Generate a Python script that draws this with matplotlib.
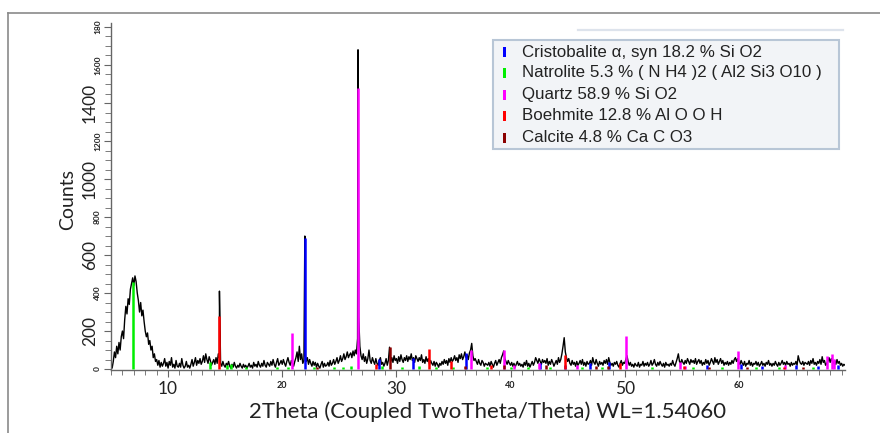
import numpy as np
import matplotlib
matplotlib.use("Agg")
import matplotlib.pyplot as plt
from matplotlib.patches import Rectangle
from matplotlib.lines import Line2D
from matplotlib.transforms import blended_transform_factory

# ---------------- data ----------------
# measured trace, 0.1 deg steps starting at 5.0 deg
trace_start = 5.0
trace_step = 0.1
trace_counts = [
    10, 5, 40, 90, 60, 120, 80, 140, 100, 170,         # 5
    200, 160, 260, 330, 290, 370, 340, 420, 450, 480,  # 6
    440, 490, 460, 400, 360, 300, 350, 280, 310, 250,  # 7
    200, 170, 190, 130, 150, 100, 120, 60, 80, 40,     # 8
    50, 20, 45, 10, 35, 15, 30, 55, 15, 35,            # 9
    5, 40, 20, 60, 10, 25, 5, 45, 15, 10,              # 10
    30, 10, 55, 20, 5, 15, 40, 10, 20, 5,              # 11
    25, 50, 15, 35, 60, 20, 45, 30, 55, 25,            # 12
    40, 70, 35, 80, 50, 30, 65, 45, 20, 35,            # 13
    50, 25, 60, 30, 80, 60, 30, 15, 40, 20,            # 14
    10, 30, 20, 40, 15, 5, 25, 10, 35, 15,             # 15
    5, 20, 10, 30, 15, 5, 25, 10, 20, 5,               # 16
    15, 30, 10, 20, 5, 35, 15, 25, 10, 40,             # 17
    20, 10, 30, 15, 45, 20, 10, 35, 25, 15,            # 18
    40, 20, 50, 25, 10, 35, 55, 20, 30, 45,            # 19
    25, 50, 30, 15, 40, 60, 35, 20, 45, 30,            # 20
    15, 40, 60, 90, 40, 120, 50, 80, 30, 45,           # 21
    80, 40, 60, 25, 50, 30, 15, 40, 20, 35,            # 22
    10, 30, 15, 5, 25, 40, 10, 30, 15, 20,             # 23
    35, 15, 45, 20, 30, 50, 25, 40, 60, 30,            # 24
    45, 70, 40, 55, 80, 50, 65, 90, 60, 75,            # 25
    85, 60, 95, 70, 100, 80, 160, 275, 120, 70,        # 26
    50, 80, 40, 65, 30, 55, 100, 45, 30, 60,           # 27
    40, 25, 55, 30, 20, 45, 60, 25, 35, 15,            # 28
    30, 55, 20, 45, 115, 40, 60, 35, 70, 45,           # 29
    55, 30, 65, 40, 75, 50, 35, 60, 45, 70,            # 30
    40, 65, 50, 80, 45, 60, 35, 70, 55, 40,            # 31
    60, 45, 75, 35, 50, 30, 65, 40, 55, 25,            # 32
    45, 30, 20, 40, 15, 35, 25, 10, 30, 20,            # 33
    40, 25, 50, 30, 45, 20, 55, 35, 60, 40,            # 34
    50, 70, 45, 60, 35, 75, 55, 80, 50, 65,            # 35
    90, 60, 75, 50, 85, 100, 135, 70, 45, 55,          # 36
    40, 25, 50, 30, 20, 45, 35, 15, 30, 25,            # 37
    20, 35, 15, 40, 25, 10, 30, 45, 20, 35,            # 38
    50, 30, 60, 75, 95, 55, 40, 25, 45, 30,            # 39
    20, 35, 15, 30, 10, 25, 40, 20, 30, 15,            # 40
    25, 10, 35, 20, 45, 15, 30, 10, 25, 40,            # 41
    20, 35, 60, 45, 30, 55, 40, 25, 50, 35,            # 42
    45, 30, 55, 20, 40, 25, 50, 35, 15, 30,            # 43
    45, 25, 60, 35, 50, 80, 120, 165, 90, 60,          # 44
    40, 55, 30, 20, 45, 25, 35, 15, 40, 20,            # 45
    30, 45, 25, 50, 20, 35, 15, 40, 25, 30,            # 46
    45, 20, 60, 35, 25, 50, 30, 15, 40, 25,            # 47
    35, 20, 45, 30, 50, 25, 60, 35, 20, 30,            # 48
    15, 35, 25, 40, 20, 10, 30, 45, 20, 35,            # 49
    30, 50, 70, 40, 20, 35, 15, 25, 10, 30,            # 50
    20, 15, 35, 10, 25, 20, 40, 15, 30, 20,            # 51
    35, 15, 25, 45, 20, 30, 50, 25, 15, 35,            # 52
    20, 40, 25, 15, 30, 10, 35, 20, 25, 15,            # 53
    30, 20, 45, 25, 15, 35, 55, 80, 40, 30,            # 54
    50, 35, 25, 45, 30, 55, 40, 25, 50, 35,            # 55
    45, 30, 55, 25, 40, 50, 30, 45, 20, 35,            # 56
    25, 50, 30, 45, 20, 35, 55, 40, 25, 60,            # 57
    35, 50, 25, 40, 55, 30, 45, 20, 35, 25,            # 58
    40, 20, 35, 25, 45, 30, 50, 60, 40, 55,            # 59
    35, 25, 45, 30, 20, 40, 15, 30, 25, 45,            # 60
    20, 35, 15, 30, 25, 40, 20, 35, 15, 25,            # 61
    40, 20, 30, 15, 35, 25, 45, 20, 30, 15,            # 62
    30, 20, 40, 25, 15, 35, 20, 30, 45, 25,            # 63
    35, 20, 40, 25, 30, 15, 35, 20, 30, 25,            # 64
    40, 20, 70, 45, 30, 25, 40, 20, 35, 30,            # 65
    25, 40, 20, 45, 30, 55, 25, 35, 20, 40,            # 66
    30, 50, 25, 65, 35, 45, 20, 30, 40, 60,            # 67
    35, 55, 40, 30, 45, 25, 50, 30, 40, 20,            # 68
    30, 15, 25, 20,                                    # 69
]
# sharp peak tops of the measured trace
peak_pos = [14.50, 21.98, 26.64]
peak_counts = [410, 700, 1680]

# reference stick patterns (position deg, height counts)
cristobalite_pos = [21.98, 28.44, 31.45, 36.10, 42.60, 44.80, 47.00, 48.60, 57.20, 60.20, 62.00, 65.00, 66.90, 68.70]
cristobalite_h = [690, 55, 60, 85, 30, 20, 30, 35, 20, 25, 15, 20, 15, 20]

natrolite_pos = [6.95, 13.70, 15.20, 15.50, 16.80, 19.50, 20.50, 22.80, 24.50, 25.30, 26.00, 28.70, 30.50,
                 32.00, 33.50, 35.00, 37.90, 40.00, 41.50, 43.50, 46.30, 48.00, 52.40, 56.00, 58.50,
                 61.50, 63.50, 66.50]
natrolite_h = [460, 35, 20, 25, 10, 10, 10, 10, 10, 10, 15, 15, 10, 15, 10, 10, 10, 10, 10, 10, 10, 10,
               10, 10, 10, 10, 10, 10]

quartz_pos = [20.86, 26.64, 36.54, 39.47, 40.30, 42.45, 45.80, 50.14, 54.87, 55.30, 59.96, 64.04, 67.74, 68.14, 68.32]
quartz_h = [190, 1480, 100, 100, 20, 30, 20, 175, 35, 15, 95, 20, 70, 80, 55]

boehmite_pos = [14.50, 28.20, 32.85, 34.80, 38.30, 44.75, 49.60, 55.20, 64.00]
boehmite_h = [280, 25, 105, 40, 20, 75, 30, 15, 10]

calcite_pos = [23.05, 29.40, 36.00, 39.40, 43.15, 47.50, 48.50, 57.40, 60.70, 65.60]
calcite_h = [10, 115, 15, 20, 20, 15, 15, 10, 10, 10]

phase_labels = ["Cristobalite α, syn 18.2 % Si O2",
                "Natrolite 5.3 % ( N H4 )2 ( Al2 Si3 O10 )",
                "Quartz 58.9 % Si O2",
                "Boehmite 12.8 % Al O O H",
                "Calcite 4.8 % Ca C O3"]
phase_colors = ["#0000ff", "#00ee00", "#ff00ff", "#ff0000", "#8b0000"]

x_major = [10, 20, 30, 40, 50, 60]
x_major_big = [True, False, True, False, True, False]
y_major = [0, 200, 400, 600, 800, 1000, 1200, 1400, 1600, 1800]
y_labels = ["0", "200", "400", "600", "800", "1000", "1200", "1400", "1600", "180"]
y_big = [False, True, False, True, False, True, False, True, False, False]

# ---------------- figure ----------------
W, H = 880, 433
fig = plt.figure(figsize=(W / 100, H / 100), dpi=100)

def fx(px):
    return px / W

def fy(py):
    return 1 - py / H

# outer frame (top and left lines)
fig.add_artist(Line2D([fx(8), 1.0], [fy(13), fy(13)], color="#8a8a8a", lw=1.2))
fig.add_artist(Line2D([fx(8), fx(8)], [fy(13), 0.0], color="#8a8a8a", lw=1.2))

ax = fig.add_axes([fx(111), fy(370), fx(845) - fx(111), fy(23) - fy(370)])

tx = trace_start + trace_step * np.arange(len(trace_counts))
all_x = np.concatenate([tx, np.array(peak_pos)])
all_y = np.concatenate([np.array(trace_counts, float), np.array(peak_counts, float)])
order = np.argsort(all_x, kind="stable")
ax.plot(all_x[order], all_y[order], color="black", lw=1.0, zorder=2)

sticks = [(cristobalite_pos, cristobalite_h), (natrolite_pos, natrolite_h), (quartz_pos, quartz_h),
          (boehmite_pos, boehmite_h), (calcite_pos, calcite_h)]
for (pos, h), c in zip(sticks, phase_colors):
    ax.vlines(pos, 0, h, colors=c, lw=1.8, zorder=3)

ax.set_xlim(5, 69.3)
ax.set_ylim(-5, 1821)

for s in ["top", "right"]:
    ax.spines[s].set_visible(False)
for s in ["left", "bottom"]:
    ax.spines[s].set_color("#666666")
    ax.spines[s].set_linewidth(1.0)

ax.set_xticks(x_major)
ax.set_xticks(np.arange(5, 70, 1), minor=True)
ax.set_xticklabels([str(v) for v in x_major])
for lab, big in zip(ax.get_xticklabels(), x_major_big):
    lab.set_fontsize(12.5 if big else 6.5)
    lab.set_family("Lato")
    lab.set_color("#222222")
    if not big:
        lab.set_fontweight("bold")
ax.tick_params(axis="x", which="major", length=5, color="#666666", pad=3)
ax.tick_params(axis="x", which="minor", length=3.5, color="#666666")

ax.set_yticks(y_major)
ax.set_yticks(np.arange(0, 1801, 50), minor=True)
ax.set_yticklabels([])
ax.tick_params(axis="y", which="major", length=5, color="#666666")
ax.tick_params(axis="y", which="minor", length=4, color="#666666")
ytr = blended_transform_factory(fig.transFigure, ax.transData)
for v, lab, big in zip(y_major, y_labels, y_big):
    ax.text(fx(90) if big else fx(97.5), v, lab, transform=ytr, rotation=90, ha="center", va="center",
            fontsize=12.5 if big else 6.0, family="Lato", color="#222222",
            fontweight="normal" if big else "bold", clip_on=False)

fig.text(fx(68), fy(200), "Counts", rotation=90, ha="center", va="center",
         fontsize=14, family="Lato", color="#222222")
fig.text(fx(488), fy(412), "2Theta (Coupled TwoTheta/Theta) WL=1.54060", ha="center", va="center",
         fontsize=16, family="Lato", color="#222222")

# legend box
fig.add_artist(Line2D([fx(578), fx(843)], [fy(30), fy(30)], color="#dde3ec", lw=1.6))
fig.add_artist(Rectangle((fx(493), fy(149)), fx(839) - fx(493), fy(40) - fy(149),
                         transform=fig.transFigure, facecolor="#f2f4f7", edgecolor="#b8c6d6",
                         lw=1.5, zorder=5))
row_y = [52, 73, 95, 116, 138]
for lbl, c, yy in zip(phase_labels, phase_colors, row_y):
    fig.add_artist(Rectangle((fx(503), fy(yy + 5)), fx(3), 10 / H, transform=fig.transFigure,
                             facecolor=c, edgecolor="none", zorder=6))
    fig.text(fx(522), fy(yy), lbl, ha="left", va="center", fontsize=12.2,
             family="Liberation Sans", color="#222222", zorder=7)

fig.savefig("out.png", dpi=100, facecolor="white")
